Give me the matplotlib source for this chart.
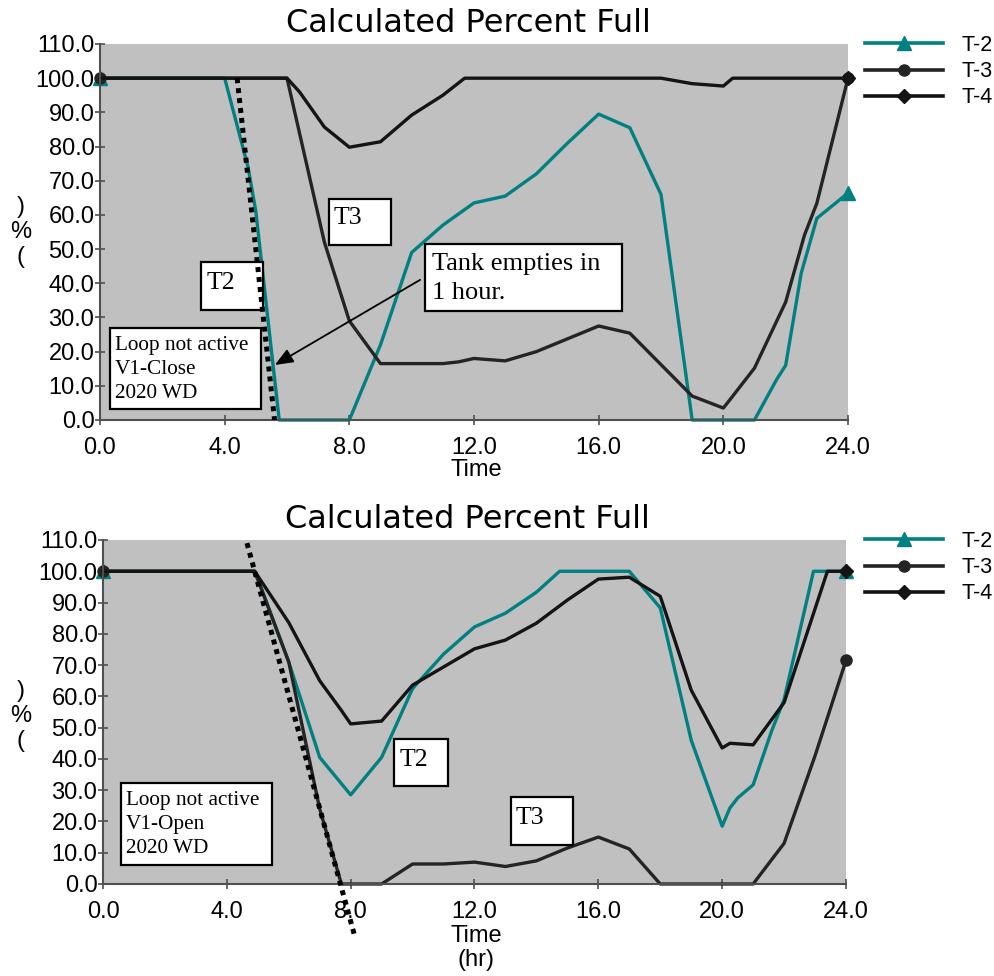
import matplotlib
matplotlib.use("Agg")
import matplotlib.pyplot as plt
from matplotlib.patches import Rectangle
from matplotlib.lines import Line2D

# ---------------- data ----------------
# Top chart (V1-Close)
top_t2_time = [0, 4.0, 4.75, 5.0, 5.75, 8.0, 9.0, 10.0, 11.0, 12.0, 13.0, 14.0, 15.0, 16.0, 17.0, 18.0, 19.0, 20.0, 21.0, 21.7, 22.0, 22.5, 23.0, 24.0]
top_t2_val = [100, 100, 74, 61, 0, 0, 22, 49, 57, 63.5, 65.5, 72, 81, 89.5, 85.5, 66, 0, 0, 0, 11.7, 16, 43, 59, 66.4]

top_t3_time = [0, 6.0, 7.2, 8.0, 9.0, 11.0, 11.5, 12.0, 13.0, 14.0, 16.0, 17.0, 19.0, 20.0, 20.2, 21.0, 22.0, 22.6, 23.0, 24.0]
top_t3_val = [100, 100, 52, 29, 16.5, 16.5, 17, 18, 17.3, 20, 27.5, 25.4, 7, 3.5, 5.8, 15.2, 34.5, 54, 63.4, 100]

top_t4_time = [0, 6.0, 6.4, 7.2, 8.0, 9.0, 10.0, 11.0, 11.7, 18.0, 19.0, 20.0, 20.3, 24.0]
top_t4_val = [100, 100, 96, 85.7, 79.8, 81.4, 89.2, 95, 100, 100, 98.4, 97.7, 100, 100]

top_trend_time = [4.4, 5.6]
top_trend_val = [100, 0]

# Bottom chart (V1-Open)
bot_t2_time = [0, 4.9, 5.1, 6.0, 7.0, 8.0, 9.0, 10.0, 11.0, 12.0, 13.0, 14.0, 14.75, 17.0, 18.0, 19.0, 20.0, 20.25, 20.5, 21.0, 21.6, 22.0, 22.95, 24.0]
bot_t2_val = [100, 100, 95, 71, 40.5, 28.5, 40.5, 62.5, 73.5, 82.2, 86.6, 93.3, 100, 100, 88.3, 46, 18.5, 24.3, 27.5, 31.7, 49, 59, 100, 100]

bot_t3_time = [0, 4.9, 6.0, 7.0, 7.7, 9.0, 10.0, 11.0, 12.0, 13.0, 14.0, 15.0, 16.0, 17.0, 18.0, 21.0, 22.0, 23.0, 24.0]
bot_t3_val = [100, 100, 71, 24, 0, 0, 6.4, 6.4, 7.0, 5.6, 7.4, 11.5, 15, 11.2, 0, 0, 13, 41, 71.5]

bot_t4_time = [0, 4.9, 6.0, 7.0, 7.7, 8.0, 9.0, 10.0, 12.0, 13.0, 14.0, 15.0, 16.0, 17.0, 18.0, 19.0, 20.0, 20.25, 21.0, 22.0, 23.4, 24.0]
bot_t4_val = [100, 100, 83.6, 65, 55.5, 51.2, 52.1, 63.6, 75.2, 78, 83.4, 90.8, 97.5, 98.1, 92, 62, 43.5, 45, 44.5, 58, 100, 100]

bot_trend_time = [4.65, 8.14]
bot_trend_val = [109, -17]

series_labels = ["T-2", "T-3", "T-4"]
x_ticks = [0, 4, 8, 12, 16, 20, 24]
y_ticks = [0, 10, 20, 30, 40, 50, 60, 70, 80, 90, 100, 110]
title_text = "Calculated Percent Full"

# ---------------- style ----------------
W, H = 994, 976
TEAL = "#008080"
DARK3 = "#242424"
DARK4 = "#141414"
BG = "#C0C0C0"
SANS = "Liberation Sans"
SERIF = "Liberation Serif"

fig = plt.figure(figsize=(W / 100, H / 100), dpi=100)


def px_axes(l, t, r, b):
    return fig.add_axes([l / W, 1 - b / H, (r - l) / W, (b - t) / H])


def style_axes(ax):
    ax.set_facecolor(BG)
    ax.set_xlim(0, 24)
    ax.set_ylim(0, 110)
    ax.set_xticks(x_ticks)
    ax.set_xticklabels([f"{v:.1f}" for v in x_ticks])
    ax.set_yticks(y_ticks)
    ax.set_yticklabels([f"{v:.1f}" for v in y_ticks])
    for s in ("top", "right"):
        ax.spines[s].set_visible(False)
    for s in ("left", "bottom"):
        ax.spines[s].set_color("#505050")
        ax.spines[s].set_linewidth(1.5)
    ax.tick_params(axis="both", direction="inout", length=7, width=1.2,
                   color="#505050", labelsize=17, labelcolor="black")
    ax.tick_params(axis="x", pad=9)
    ax.tick_params(axis="y", pad=0.5)
    for lab in ax.get_xticklabels() + ax.get_yticklabels():
        lab.set_fontfamily(SANS)


def draw_series(ax, t2x, t2y, t3x, t3y, t4x, t4y):
    ax.plot(t2x, t2y, color=TEAL, lw=2.4, marker="^", ms=10, markevery=[0, len(t2x) - 1],
            zorder=2, clip_on=False)
    ax.plot(t3x, t3y, color=DARK3, lw=2.4, marker="o", ms=8, markevery=[0, len(t3x) - 1],
            zorder=2.1, clip_on=False)
    ax.plot(t4x, t4y, color=DARK4, lw=2.4, marker="D", ms=7.5, markevery=[len(t4x) - 1],
            zorder=2.2, clip_on=False)


def add_box(ax, x0, y0, x1, y1):
    ax.add_patch(Rectangle((x0, y0), x1 - x0, y1 - y0, facecolor="white",
                           edgecolor="black", lw=1.6, zorder=3))


def add_legend(ax, anchor):
    handles = [
        Line2D([], [], color=TEAL, lw=2.6, marker="^", ms=10),
        Line2D([], [], color=DARK3, lw=2.6, marker="o", ms=8),
        Line2D([], [], color=DARK4, lw=2.6, marker="D", ms=7.5),
    ]
    leg = ax.legend(handles, series_labels, loc="upper left", bbox_to_anchor=anchor,
                    frameon=False, numpoints=1, handlelength=3.63, handletextpad=0.85,
                    labelspacing=0.24, borderaxespad=0, borderpad=0,
                    prop={"family": SANS, "size": 15.5})
    return leg


def add_ylabel(y_center):
    fig.text(21 / W, 1 - y_center / H, ")\n%\n(", family=SANS, fontsize=17,
             ha="center", va="center", multialignment="center", linespacing=1.15)


# ---------------- top chart ----------------
ax1 = px_axes(100, 44, 848, 420)
style_axes(ax1)
draw_series(ax1, top_t2_time, top_t2_val, top_t3_time, top_t3_val, top_t4_time, top_t4_val)
ax1.plot(top_trend_time, top_trend_val, color="black", lw=3.6, ls=(0, (1, 1)),
         dash_capstyle="butt", zorder=4)

add_box(ax1, 7.35, 51.2, 9.34, 64.7)
ax1.text(7.48, 59.1, "T3", family=SERIF, fontsize=18.5, va="center", ha="left", zorder=5)
add_box(ax1, 3.24, 32.2, 5.23, 46.2)
ax1.text(3.43, 40.0, "T2", family=SERIF, fontsize=18.5, va="center", ha="left", zorder=3.5)
add_box(ax1, 0.32, 3.2, 5.17, 26.9)
ax1.text(0.48, 14.8, "Loop not active\nV1-Close\n2020 WD", family=SERIF, fontsize=15.3,
         va="center", ha="left", linespacing=1.38, zorder=5)
add_box(ax1, 10.43, 31.9, 16.75, 51.5)
ax1.text(10.65, 41.4, "Tank empties in\n1 hour.", family=SERIF, fontsize=19,
         va="center", ha="left", linespacing=1.46, zorder=5)
ax1.annotate("", xy=(5.61, 16.1), xytext=(10.27, 41.0),
             arrowprops=dict(arrowstyle="-|>,head_length=1.1,head_width=0.45",
                             color="black", lw=1.3, shrinkA=0, shrinkB=0), zorder=6)

ax1.text((468 - 100) / 748, 1 + 12 / 376, title_text, transform=ax1.transAxes,
         ha="center", va="baseline", family="DejaVu Sans", fontsize=23)
ax1.set_xlabel("Time", family=SANS, fontsize=17)
ax1.xaxis.set_label_coords((476 - 100) / 748, -(459 - 420) / 376)
add_legend(ax1, ((865 - 100) / 748, (420 - 35) / 376))
add_ylabel(232)

# ---------------- bottom chart ----------------
ax2 = px_axes(103, 540, 846, 884)
style_axes(ax2)
draw_series(ax2, bot_t2_time, bot_t2_val, bot_t3_time, bot_t3_val, bot_t4_time, bot_t4_val)
ax2.plot(bot_trend_time, bot_trend_val, color="black", lw=3.6, ls=(0, (1, 1)),
         dash_capstyle="butt", zorder=4, clip_on=False)

add_box(ax2, 0.58, 6.1, 5.46, 32.3)
ax2.text(0.74, 19.0, "Loop not active\nV1-Open\n2020 WD", family=SERIF, fontsize=15.3,
         va="center", ha="left", linespacing=1.38, zorder=5)
add_box(ax2, 9.4, 31.3, 11.14, 46.4)
ax2.text(9.59, 39.7, "T2", family=SERIF, fontsize=18.5, va="center", ha="left", zorder=5)
add_box(ax2, 13.18, 12.5, 15.18, 27.8)
ax2.text(13.34, 21.1, "T3", family=SERIF, fontsize=18.5, va="center", ha="left", zorder=5)

ax2.text((467.5 - 103) / 743, 1 + 12 / 344, title_text, transform=ax2.transAxes,
         ha="center", va="baseline", family="DejaVu Sans", fontsize=23)
ax2.set_xlabel("Time\n(hr)", family=SANS, fontsize=17, linespacing=1.12)
ax2.xaxis.set_label_coords((476 - 103) / 743, -(925 - 884) / 344)
add_legend(ax2, ((865 - 103) / 743, (884 - 531) / 344))
add_ylabel(716)

fig.savefig("out.png", dpi=100, facecolor="white")
